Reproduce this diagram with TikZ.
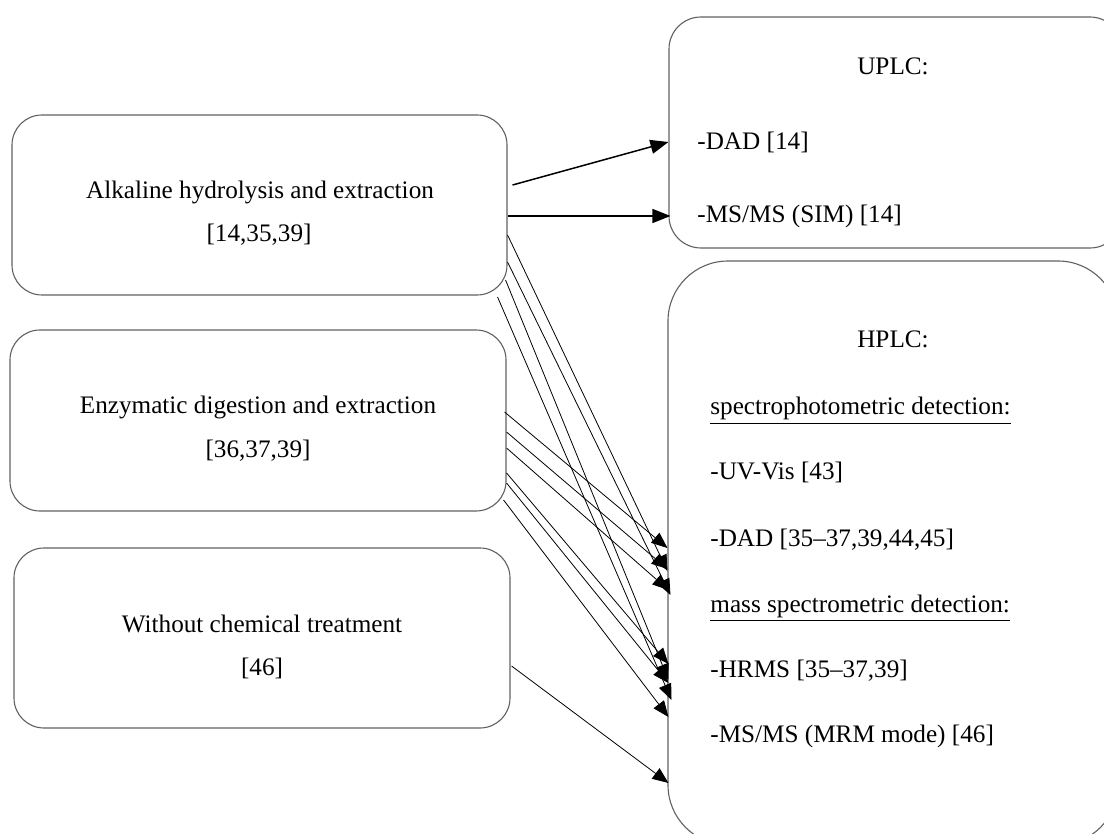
\documentclass[tikz,border=0pt]{standalone}
\usepackage{fontspec}
\setmainfont{Liberation Serif}
\usetikzlibrary{arrows.meta,calc}
\begin{document}
\begin{tikzpicture}[x=0.5pt,y=-0.5pt,
  box/.style={draw=black!62, line width=0.55pt, rectangle, inner sep=0pt},
  txt/.style={font=\fontsize{12.6}{14}\selectfont, inner sep=0pt, anchor=base},
  ltxt/.style={txt, anchor=base west},
  thick arrow/.style={line width=0.75pt, -{Triangle[length=9pt,width=7pt]}},
  thin arrow/.style={draw=black, line width=0.4pt, -{Triangle[length=8pt,width=6.5pt]}}]
\useasboundingbox (0,0) rectangle (1104,834);
\clip (0,0) rectangle (1104,834);
\fill[white] (0,0) rectangle (1104,834);
% boxes
\node[box, rounded corners=15pt, minimum width=247.5pt, minimum height=90pt] (A) at (259.5,205) {};
\node[box, rounded corners=15pt, minimum width=248pt, minimum height=90.5pt] (E) at (258,420.5) {};
\node[box, rounded corners=15pt, minimum width=248pt, minimum height=90pt] (W) at (262,638) {};
\node[box, rounded corners=16pt, minimum width=226.5pt, minimum height=115.5pt] (U) at (895.5,132.5) {};
\node[box, rounded corners=30pt, minimum width=225pt, minimum height=292pt] (H) at (893,553) {};
% texts
\node[txt] (A1t) at (260,199) {Alkaline hydrolysis and extraction};
\node[txt] (A2t) at (259,242) {[14,35,39]};
\node[txt] (E1t) at (258,414) {Enzymatic digestion and extraction};
\node[txt] (E2t) at (258,458) {[36,37,39]};
\node[txt] (W1t) at (262,632) {Without chemical treatment};
\node[txt] (W2t) at (262,675) {[46]};
\node[txt] (U0t) at (893,75) {UPLC:};
\node[ltxt] (U1t) at (697,150) {-DAD [14]};
\node[ltxt] (U2t) at (697,223) {-MS/MS (SIM) [14]};
\node[txt] (H0t) at (893,348) {HPLC:};
\node[ltxt] (H1t) at (710,415) {\underline{spectrophotometric detection:}};
\node[ltxt] (H2t) at (710,480) {-UV-Vis [43]};
\node[ltxt] (H3t) at (710,546) {-DAD [35–37,39,44,45]};
\node[ltxt] (H4t) at (710,612) {\underline{mass spectrometric detection:}};
\node[ltxt] (H5t) at (710,677) {-HRMS [35–37,39]};
\node[ltxt] (H6t) at (710,742) {-MS/MS (MRM mode) [46]};
% connectors to UPLC
\draw[thick arrow] ($(A.east)+(5,-20)$) -- ($(U.west)+(0,9.5)$);
\draw[thick arrow] ($(A.east)+(0,11)$) -- ($(U.west)+(2,83.5)$);
% connectors from Alkaline to HPLC
\draw[thin arrow] ($(A.east)+(0,30)$) -- ($(H.west)+(0,18)$);
\draw[thin arrow] ($(A.east)+(0,57)$) -- ($(H.west)+(3,42)$);
\draw[thin arrow] ($(A.east)+(-2,75)$) -- ($(H.west)+(1,127)$);
\draw[thin arrow] ($(A.east)+(-10,92)$) -- ($(H.west)+(4,147)$);
% connectors from Enzymatic to HPLC
\draw[thin arrow] ($(E.east)+(-2,-8.5)$) -- ($(H.west)+(0,-5)$);
\draw[thin arrow] ($(E.east)+(0,11.5)$) -- ($(H.west)+(0,16)$);
\draw[thin arrow] ($(E.east)+(0,27.5)$) -- ($(H.west)+(1,37)$);
\draw[thin arrow] ($(E.east)+(0,52.5)$) -- ($(H.west)+(1,111)$);
\draw[thin arrow] ($(E.east)+(0,62.5)$) -- ($(H.west)+(1,130)$);
\draw[thin arrow] ($(E.east)+(-3,79.5)$) -- ($(H.west)+(1,164)$);
% connector from Without to HPLC
\draw[thin arrow] ($(W.east)+(1,28)$) -- ($(H.west)+(1,230)$);
\end{tikzpicture}
\end{document}
